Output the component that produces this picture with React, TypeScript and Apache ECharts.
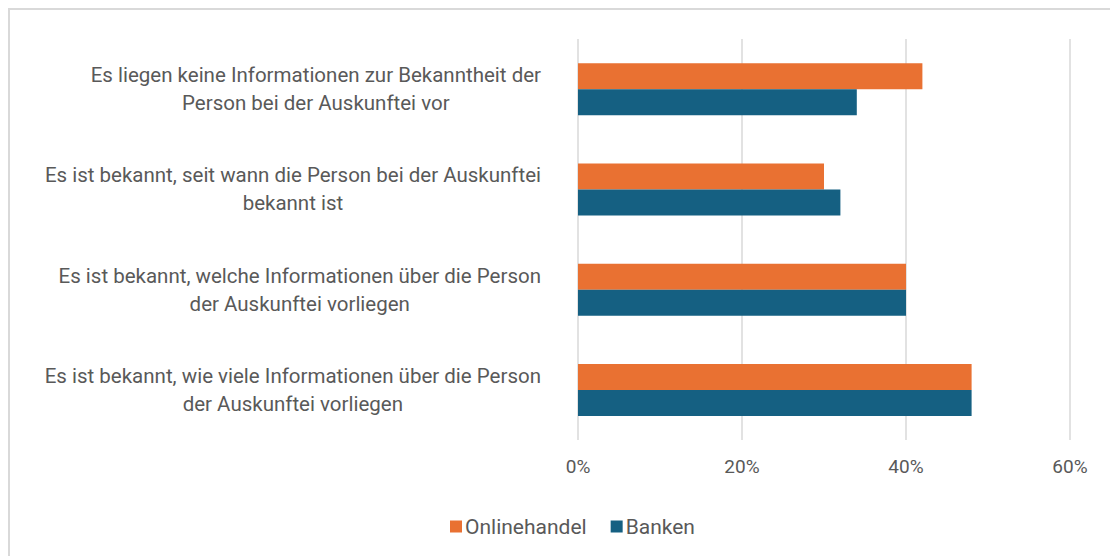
import React, { useEffect, useRef } from "react";
import * as echarts from "echarts";

const categories: string[] = [
  "Es liegen keine Informationen zur Bekanntheit der\nPerson bei der Auskunftei vor",
  "Es ist bekannt, seit wann die Person bei der Auskunftei\nbekannt ist",
  "Es ist bekannt, welche Informationen über die Person\nder Auskunftei vorliegen",
  "Es ist bekannt, wie viele Informationen über die Person\nder Auskunftei vorliegen",
];
const seriesNames: string[] = ["Onlinehandel", "Banken"];
const onlinehandel: number[] = [42, 30, 40, 48];
const banken: number[] = [34, 32, 40, 48];
const xTicks: number[] = [0, 20, 40, 60];

const COLORS = ["#E97132", "#156082"];
const TEXT = "#595959";
const FONT = "Roboto, 'Noto Sans', sans-serif";

export default function App() {
  const ref = useRef<HTMLDivElement>(null);
  useEffect(() => {
    if (!ref.current) return;
    const chart = echarts.init(ref.current, undefined, { renderer: "svg" });
    chart.setOption({
      animation: false,
      backgroundColor: "#ffffff",
      textStyle: { fontFamily: FONT },
      graphic: [
        {
          type: "rect",
          shape: { x: 9, y: 9, width: 1200, height: 700 },
          style: { fill: "none", stroke: "#d9d9d9", lineWidth: 2 },
          silent: true,
        },
      ],
      grid: { left: 578, right: 40, top: 39, bottom: 116, containLabel: false },
      legend: {
        top: 511,
        left: 445,
        icon: "rect",
        itemWidth: 12,
        itemHeight: 12,
        itemGap: 24,
        textStyle: { color: TEXT, fontSize: 21, fontFamily: FONT, padding: [0, 0, 0, -2] },
        data: seriesNames,
      },
      xAxis: {
        type: "value",
        min: xTicks[0],
        max: xTicks[xTicks.length - 1],
        interval: 20,
        axisLine: { show: false },
        axisTick: { show: false },
        splitLine: { show: true, lineStyle: { color: "#d9d9d9", width: 1.5 } },
        axisLabel: {
          color: TEXT,
          fontSize: 19,
          fontFamily: FONT,
          margin: 17,
          formatter: (v: number) => `${v}%`,
        },
      },
      yAxis: {
        type: "category",
        inverse: true,
        data: categories,
        axisLine: { show: false },
        axisTick: { show: false },
        splitLine: { show: false },
        axisLabel: {
          color: TEXT,
          fontSize: 20.5,
          fontFamily: FONT,
          margin: 37,
          align: "right",
          lineHeight: 28,
          formatter: (v: string) =>
            v
              .split("\n")
              .map((l) => `{c|${l}}`)
              .join("\n"),
          rich: {
            c: {
              align: "center",
              color: TEXT,
              fontSize: 20.5,
              fontFamily: FONT,
              lineHeight: 28,
            },
          },
        },
      },
      series: [
        {
          name: seriesNames[0],
          type: "bar",
          data: onlinehandel,
          barWidth: 26,
          barGap: "0%",
          itemStyle: { color: COLORS[0] },
        },
        {
          name: seriesNames[1],
          type: "bar",
          data: banken,
          barWidth: 26,
          barGap: "0%",
          itemStyle: { color: COLORS[1] },
        },
      ],
    });
    return () => chart.dispose();
  }, []);
  return (
    <div
      ref={ref}
      style={{ position: "absolute", left: 0, top: 0, width: 1110, height: 556 }}
    />
  );
}
